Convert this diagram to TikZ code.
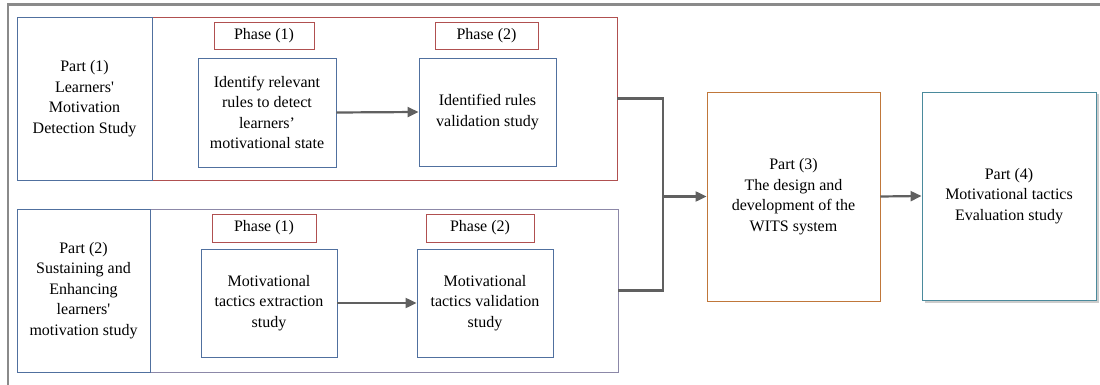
\documentclass[tikz,border=0pt]{standalone}
\usepackage{fontspec}
\setmainfont{LiberationSerif}[Extension=.ttf, UprightFont=*-Regular, BoldFont=*-Bold]
\usetikzlibrary{arrows.meta,shadows}
\definecolor{frm}{HTML}{8A8A8A}
\definecolor{redb}{HTML}{B05050}
\definecolor{blueb}{HTML}{50709F}
\definecolor{purb}{HTML}{8C88A8}
\definecolor{orab}{HTML}{C0773A}
\definecolor{tealb}{HTML}{4A8A9C}
\definecolor{arr}{HTML}{606060}
\tikzset{
  box/.style={draw, line width=0.9pt, inner sep=0pt, align=center,
    font=\fontsize{16}{20.5}\selectfont},
  phasebox/.style={box, draw=redb},
  stepbox/.style={box, draw=blueb},
  conn/.style={draw=arr, line width=2.2pt},
  arrowline/.style={conn, -{Triangle[length=11pt,width=10pt]}},
}
\begin{document}
\begin{tikzpicture}[x=1pt,y=-1pt]
\useasboundingbox (0,0) rectangle (1100,385);
% outer frame (only top and left visible)
\draw[frm, line width=2.5pt] (8,385) -- (8,4.5) -- (1100,4.5);
% Part 1
\node[box, draw=redb, minimum width=600, minimum height=163] (p1) at (317,98.5) {};
\node[stepbox, minimum width=135, minimum height=163] (p1l) at (84.5,98.5)
  {Part (1)\\Learners\textquotesingle\\Motivation\\Detection Study};
\node[phasebox, minimum width=100, minimum height=27] (p1a) at (264,35.5) {Phase (1)};
\node[phasebox, minimum width=103, minimum height=27] (p1b) at (486.5,35.5) {Phase (2)};
\node[stepbox, minimum width=138, minimum height=109] (a) at (267,112.5)
  {Identify relevant\\rules to detect\\learners’\\motivational state};
\node[stepbox, minimum width=137, minimum height=108] (b) at (487.5,112)
  {Identified rules\\validation study};
\draw[arrowline] (a.east) -- (b.west);
% Part 2
\node[box, draw=purb, minimum width=601, minimum height=163] (p2) at (317.5,290.5) {};
\node[stepbox, minimum width=133, minimum height=163] (p2l) at (83.5,290.5)
  {Part (2)\\Sustaining and\\Enhancing\\learners\textquotesingle\\motivation study};
\node[phasebox, minimum width=104, minimum height=28] (p2a) at (264,228) {Phase (1)};
\node[phasebox, minimum width=108, minimum height=28] (p2b) at (480,228) {Phase (2)};
\node[stepbox, minimum width=136, minimum height=108] (c) at (269,303)
  {Motivational\\tactics extraction\\study};
\node[stepbox, minimum width=136, minimum height=108] (d) at (485,303)
  {Motivational\\tactics validation\\study};
\draw[arrowline] (c.east) -- (d.west);
% Part 3 and 4
\node[box, draw=orab, minimum width=173, minimum height=209] (p3) at (793.5,196.5)
  {Part (3)\\The design and\\development of the\\WITS system};
\node[box, draw=tealb, fill=white, minimum width=174, minimum height=208,
  drop shadow={shadow xshift=2.5pt, shadow yshift=-2.5pt, fill=black!40, opacity=0.5}] (p4) at (1009,196)
  {Part (4)\\Motivational tactics\\Evaluation study};
% connectors
\coordinate (j) at (663,196.5);
\draw[conn] (p1.east) -| (j);
\draw[conn] (p2.east) -| (j);
\draw[arrowline] (j) -- (p3.west);
\draw[arrowline] (p3.east) -- (p4.west);
\end{tikzpicture}
\end{document}
